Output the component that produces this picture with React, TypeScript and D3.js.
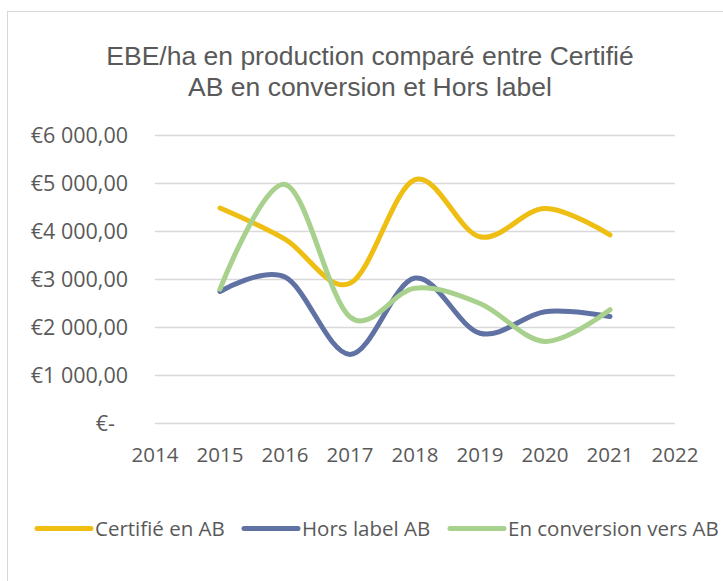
import React from "react";
import * as d3 from "d3";

const years = [2015, 2016, 2017, 2018, 2019, 2020, 2021];
const certifie = [4490, 3840, 2920, 5080, 3890, 4480, 3930];
const horsLabel = [2750, 3050, 1440, 3030, 1880, 2330, 2230];
const conversion = [2800, 4980, 2220, 2820, 2500, 1710, 2370];
const yTicks = [0, 1000, 2000, 3000, 4000, 5000, 6000];
const xTicks = [2014, 2015, 2016, 2017, 2018, 2019, 2020, 2021, 2022];
const seriesNames = ["Certifié en AB", "Hors label AB", "En conversion vers AB"];
const seriesColors = ["#EFBE13", "#6071A3", "#A8D18D"];
const titleLines = ["EBE/ha en production comparé entre Certifié", "AB en conversion et Hors label"];

const FONT = "'Open Sans', 'Noto Sans', sans-serif";
const TITLE_FONT = "'Liberation Sans', Arial, sans-serif";
const TEXT = "#595959";

function fmtEuro(v: number): string {
  if (v === 0) return "€-";
  const s = d3.format(",.2f")(v); // 6,000.00
  return "€" + s.replace(/,/g, " ").replace(".", ",");
}

export default function App() {
  const W = 723;
  const H = 581;
  const x = d3.scaleLinear().domain([2014, 2022]).range([155, 675]);
  const y = d3.scaleLinear().domain([0, 6000]).range([423.5, 135.5]);
  const allSeries = [certifie, horsLabel, conversion];
  const line = d3
    .line<[number, number]>()
    .x((d) => x(d[0]))
    .y((d) => y(d[1]))
    .curve(d3.curveCardinal.tension(0));
  const legendX = [37, 244, 450];

  return (
    <svg
      width={W}
      height={H}
      style={{ position: "absolute", left: 0, top: 0, background: "#fff" }}
      fontFamily={FONT}
    >
      <rect x={7.5} y={11.5} width={W + 20} height={H + 20} fill="#fff" stroke="#D9D9D9" strokeWidth={1} />
      {titleLines.map((t, i) => (
        <text
          key={i}
          x={370}
          y={64.5 + i * 31.5}
          textAnchor="middle"
          fontFamily={TITLE_FONT}
          fontSize={26.5}
          fill={TEXT}
        >
          {t}
        </text>
      ))}
      {yTicks.map((t) => (
        <g key={t}>
          <line x1={155} x2={675} y1={y(t)} y2={y(t)} stroke="#D9D9D9" strokeWidth={1.5} />
          <text
            x={t === 0 ? 115 : 128}
            y={y(t)}
            dy="0.36em"
            textAnchor="end"
            fontSize={21.5}
            fill={TEXT}
          >
            {fmtEuro(t)}
          </text>
        </g>
      ))}
      {xTicks.map((t) => (
        <text key={t} x={x(t)} y={462} textAnchor="middle" fontSize={20.5} fill={TEXT}>
          {t}
        </text>
      ))}
      {allSeries.map((s, i) => (
        <path
          key={i}
          d={line(years.map((yr, j) => [yr, s[j]] as [number, number])) || ""}
          fill="none"
          stroke={seriesColors[i]}
          strokeWidth={5}
          strokeLinecap="round"
          strokeLinejoin="round"
        />
      ))}
      {seriesNames.map((n, i) => (
        <g key={n}>
          <line
            x1={legendX[i]}
            x2={legendX[i] + 54}
            y1={528.5}
            y2={528.5}
            stroke={seriesColors[i]}
            strokeWidth={5}
            strokeLinecap="round"
          />
          <text x={legendX[i] + 58} y={535.5} fontSize={20.5} fill={TEXT}>
            {n}
          </text>
        </g>
      ))}
    </svg>
  );
}
